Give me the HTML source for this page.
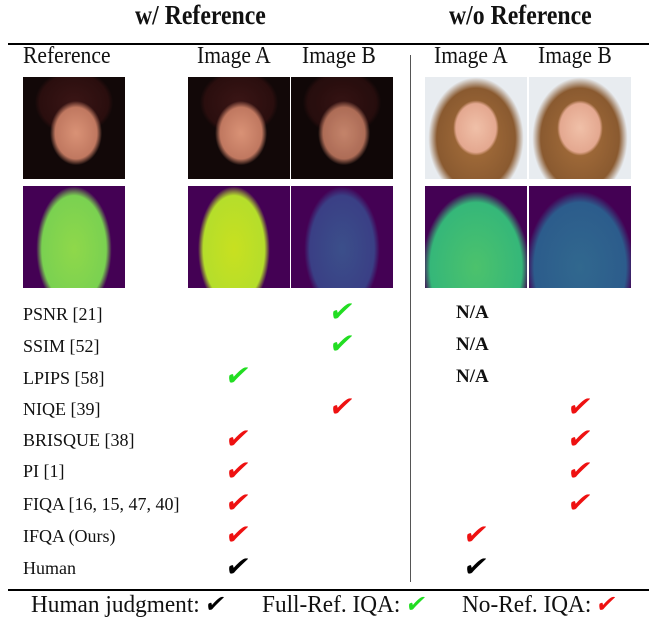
<!DOCTYPE html>
<html><head><meta charset="utf-8"><style>
body{margin:0;background:#fff;width:655px;height:626px;position:relative;overflow:hidden;font-family:"Liberation Serif",serif;color:#111}
.a{position:absolute}
.t{font-weight:bold;font-size:27px;top:0px;white-space:nowrap;transform:scaleX(0.88);transform-origin:left}
.h{font-size:24px;top:43px;white-space:nowrap;transform:scaleX(0.9);transform-origin:left}
.lab{font-size:18px;left:23px;white-space:nowrap}
.ck{font-family:"DejaVu Sans",sans-serif;font-size:28px;font-weight:bold;transform:skewX(-12deg);line-height:1}
.g{color:#22dd22}.r{color:#ee1111}.k{color:#000}
.na{font-weight:bold;font-size:19px;left:456px}
.img{width:102px;height:102px;overflow:hidden}
.dark{background:radial-gradient(ellipse 34% 42% at 52% 55%,#d99276 0,#c07860 60%,transparent 75%),radial-gradient(ellipse 48% 40% at 50% 25%,#3a1515 0,#2a0e0e 70%,transparent 80%),#120808}
.light{background:radial-gradient(ellipse 28% 34% at 50% 50%,#f0c0a8 0,#e4a890 70%,transparent 80%),radial-gradient(ellipse 55% 70% at 50% 60%,#a8703c 0,#8a5a30 70%,transparent 85%),#e8ecf0}
.leg{top:592px;font-size:24px;white-space:nowrap;transform:scaleX(0.97);transform-origin:left}
</style></head><body>
<div class="a t" style="left:135px">w/ Reference</div>
<div class="a t" style="left:449px">w/o Reference</div>
<div class="a" style="left:8px;top:43px;width:641px;height:2px;background:#000"></div>
<div class="a" style="left:410px;top:55px;width:1px;height:527px;background:#555"></div>
<div class="a" style="left:8px;top:589px;width:641px;height:2px;background:#000"></div>

<div class="a h" style="left:23px">Reference</div>
<div class="a h" style="left:197px">Image A</div>
<div class="a h" style="left:302px">Image B</div>
<div class="a h" style="left:434px">Image A</div>
<div class="a h" style="left:538px">Image B</div>

<div class="a img dark" style="left:23px;top:77px"></div>
<div class="a img dark" style="left:188px;top:77px"></div>
<div class="a img dark" style="left:291px;top:77px;filter:brightness(0.9)"></div>
<div class="a img light" style="left:425px;top:77px"></div>
<div class="a img light" style="left:529px;top:77px"></div>

<div class="a img" style="left:23px;top:186px;background:radial-gradient(ellipse 42% 70% at 50% 62%,#8fd84a 0,#7ad151 75%,transparent 88%),#440154"></div>
<div class="a img" style="left:188px;top:186px;background:radial-gradient(ellipse 40% 70% at 45% 62%,#c8e020 0,#b5de2b 75%,transparent 88%),#440154"></div>
<div class="a img" style="left:291px;top:186px;background:radial-gradient(ellipse 42% 70% at 50% 62%,#3b4f8a 0,#3a3f85 75%,transparent 88%),#440154"></div>
<div class="a img" style="left:425px;top:186px;background:radial-gradient(ellipse 60% 85% at 50% 80%,#4cc26c 0,#35b779 75%,transparent 88%),#440154"></div>
<div class="a img" style="left:529px;top:186px;background:radial-gradient(ellipse 60% 85% at 50% 80%,#31688e 0,#2c5c8c 75%,transparent 88%),#440154"></div>

<div class="a lab" style="top:304px">PSNR [21]</div>
<div class="a lab" style="top:336px">SSIM [52]</div>
<div class="a lab" style="top:368px">LPIPS [58]</div>
<div class="a lab" style="top:399px">NIQE [39]</div>
<div class="a lab" style="top:430px">BRISQUE [38]</div>
<div class="a lab" style="top:461px">PI [1]</div>
<div class="a lab" style="top:494px">FIQA [16, 15, 47, 40]</div>
<div class="a lab" style="top:526px">IFQA (Ours)</div>
<div class="a lab" style="top:558px">Human</div>

<div class="a ck g" style="left:330px;top:298px">✔</div>
<div class="a ck g" style="left:330px;top:330px">✔</div>
<div class="a ck g" style="left:226px;top:362px">✔</div>
<div class="a ck r" style="left:330px;top:393px">✔</div>
<div class="a ck r" style="left:226px;top:425px">✔</div>
<div class="a ck r" style="left:226px;top:457px">✔</div>
<div class="a ck r" style="left:226px;top:489px">✔</div>
<div class="a ck r" style="left:226px;top:521px">✔</div>
<div class="a ck k" style="left:226px;top:553px">✔</div>

<div class="a na" style="top:302px">N/A</div>
<div class="a na" style="top:334px">N/A</div>
<div class="a na" style="top:366px">N/A</div>
<div class="a ck r" style="left:568px;top:393px">✔</div>
<div class="a ck r" style="left:568px;top:425px">✔</div>
<div class="a ck r" style="left:568px;top:457px">✔</div>
<div class="a ck r" style="left:568px;top:489px">✔</div>
<div class="a ck r" style="left:464px;top:521px">✔</div>
<div class="a ck k" style="left:464px;top:553px">✔</div>

<div class="a leg" style="left:31px">Human judgment: <span class="ck k" style="display:inline-block;font-size:24px">✔</span></div>
<div class="a leg" style="left:262px">Full-Ref. IQA: <span class="ck g" style="display:inline-block;font-size:24px">✔</span></div>
<div class="a leg" style="left:462px">No-Ref. IQA: <span class="ck r" style="display:inline-block;font-size:24px">✔</span></div>
</body></html>
